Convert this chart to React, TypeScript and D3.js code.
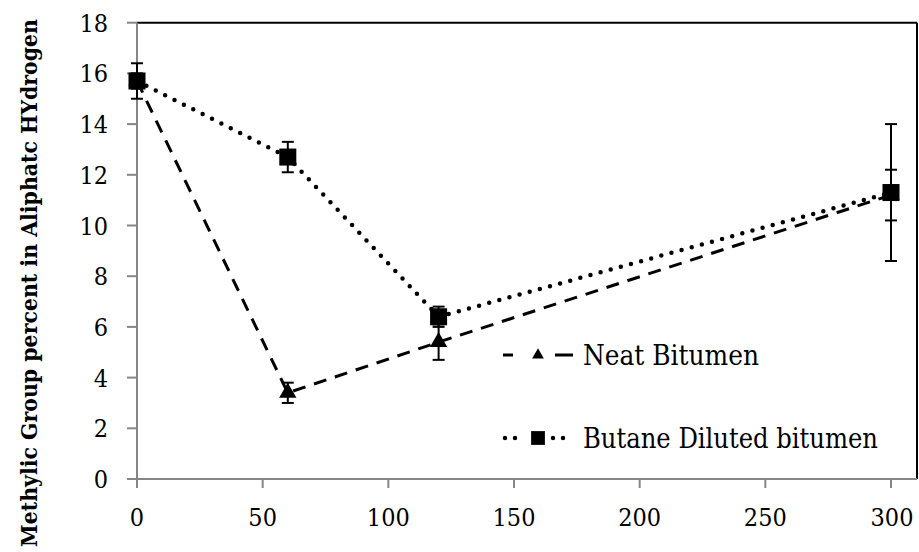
import React from "react";
import * as d3 from "d3";

// time (x) and methylic group % (y)
const times = [0, 60, 120, 300];
const neatValues = [15.7, 3.4, 5.4, 11.2];
const neatErrors = [0.3, 0.4, 0.7, 1.0];
const butaneValues = [15.7, 12.7, 6.4, 11.3];
const butaneErrors = [0.7, 0.6, 0.4, 2.7];
const xTicks = [0, 50, 100, 150, 200, 250, 300];
const yTicks = [0, 2, 4, 6, 8, 10, 12, 14, 16, 18];
const legendLabels = ["Neat Bitumen", "Butane Diluted bitumen"];
const yTitle = "Methylic Group percent in Aliphatc HYdrogen";

const W = 919;
const H = 552;
const FONT = "'DejaVu Serif Condensed', 'DejaVu Serif', serif";

export default function App() {
  const x = d3.scaleLinear().domain([0, 300]).range([137, 891]);
  const y = d3.scaleLinear().domain([0, 18]).range([479, 22.7]);

  const lineGen = d3
    .line<number>()
    .x((d, i) => x(times[i]))
    .y((d) => y(d));

  const tri = d3.symbol().type(d3.symbolTriangle).size(130)() as string;
  const sq = d3.symbol().type(d3.symbolSquare).size(290)() as string;
  const legendMarks = [
    d3.symbol().type(d3.symbolTriangle).size(60)() as string,
    d3.symbol().type(d3.symbolSquare).size(190)() as string,
  ];

  const series = [
    { values: neatValues, errors: neatErrors, dash: "13 9", legendDash: "10 42 18 200", width: 3, cap: "butt", marker: tri },
    { values: butaneValues, errors: butaneErrors, dash: "0 10.5", legendDash: "0 10 0 38 0 10 0 200", width: 4.5, cap: "round", marker: sq },
  ];
  const legendWidths = [176, 295];

  const xMax = 917;
  const txt: React.CSSProperties = { fontFamily: FONT };

  return (
    <svg
      width={W}
      height={H}
      style={{ position: "absolute", left: 0, top: 0, background: "#fff", fontFamily: FONT }}
    >
      {/* frame */}
      <line x1={x(0)} x2={xMax} y1={y(18)} y2={y(18)} stroke="#000" strokeWidth={2} />
      <line x1={xMax} x2={xMax} y1={y(18)} y2={y(0)} stroke="#000" strokeWidth={2} />
      <line x1={x(0)} x2={x(0)} y1={y(18)} y2={y(0)} stroke="#868686" strokeWidth={2} />
      <line x1={x(0)} x2={xMax} y1={y(0)} y2={y(0)} stroke="#868686" strokeWidth={2} />

      {yTicks.map((t) => (
        <g key={"y" + t}>
          <line x1={x(0) - 10} x2={x(0)} y1={y(t)} y2={y(t)} stroke="#868686" strokeWidth={2} />
          <text x={108} y={y(t) + 9} textAnchor="end" fontSize={25} style={txt}>
            {t}
          </text>
        </g>
      ))}
      {xTicks.map((t) => (
        <g key={"x" + t}>
          <line x1={x(t)} x2={x(t)} y1={y(0)} y2={y(0) + 9} stroke="#868686" strokeWidth={2} />
          <text x={t === 300 ? x(t) + 1 : x(t)} y={526} textAnchor="middle" fontSize={25} style={txt}>
            {t}
          </text>
        </g>
      ))}

      <text
        transform={`translate(37,283) rotate(-90)`}
        textAnchor="middle"
        fontSize={22}
        fontWeight="bold"
        textLength={528}
        lengthAdjust="spacingAndGlyphs"
        style={txt}
      >
        {yTitle}
      </text>

      {series.map((s, si) => (
        <g key={"s" + si}>
          <path
            d={lineGen(s.values) as string}
            fill="none"
            stroke="#000"
            strokeWidth={s.width}
            strokeDasharray={s.dash}
            strokeLinecap={s.cap as any}
          />
          {s.values.map((v, i) => (
            <g key={i} stroke="#000" strokeWidth={2}>
              <line x1={x(times[i])} x2={x(times[i])} y1={y(v + s.errors[i])} y2={y(v - s.errors[i])} />
              <line x1={x(times[i]) - 6} x2={x(times[i]) + 6} y1={y(v + s.errors[i])} y2={y(v + s.errors[i])} />
              <line x1={x(times[i]) - 6} x2={x(times[i]) + 6} y1={y(v - s.errors[i])} y2={y(v - s.errors[i])} />
            </g>
          ))}
          {s.values.map((v, i) => (
            <path key={"m" + i} d={s.marker} transform={`translate(${x(times[i])},${y(v)})`} fill="#000" />
          ))}
        </g>
      ))}

      {/* legend */}
      {series.map((s, si) => {
        const cy = si === 0 ? 355 : 438;
        return (
          <g key={"l" + si}>
            <line
              x1={si === 0 ? 503 : 505}
              x2={575}
              y1={cy}
              y2={cy}
              stroke="#000"
              strokeWidth={s.width}
              strokeDasharray={s.legendDash}
              strokeLinecap={s.cap as any}
            />
            <path d={legendMarks[si]} transform={`translate(538,${cy})`} fill="#000" />
            <text
              x={583}
              y={cy + 10}
              fontSize={27}
              textLength={legendWidths[si]}
              lengthAdjust="spacingAndGlyphs"
              style={txt}
            >
              {legendLabels[si]}
            </text>
          </g>
        );
      })}
    </svg>
  );
}
